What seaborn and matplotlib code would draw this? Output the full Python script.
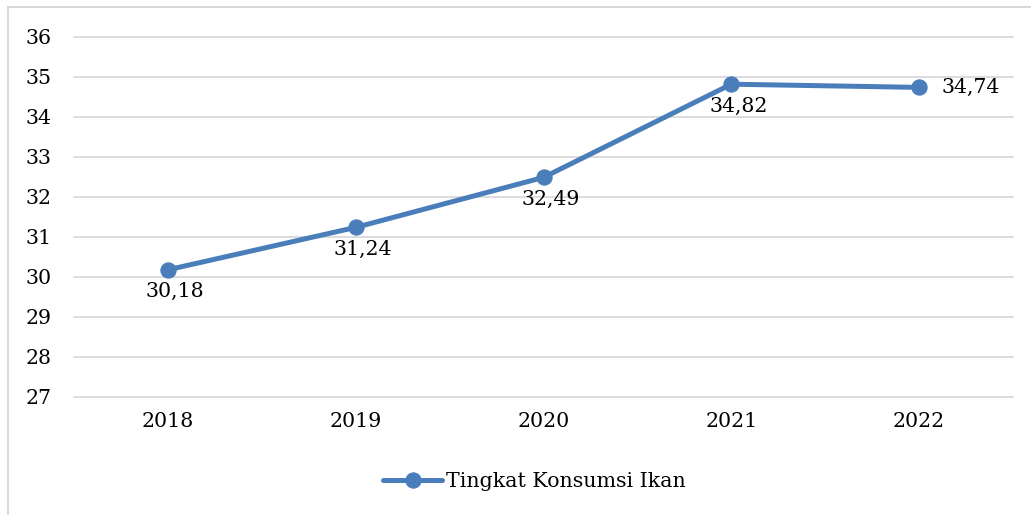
import matplotlib
matplotlib.use("Agg")
import matplotlib.pyplot as plt
import seaborn as sns
import pandas as pd
from matplotlib.patches import Rectangle

years = ["2018", "2019", "2020", "2021", "2022"]
konsumsi = [30.18, 31.24, 32.49, 34.82, 34.74]
series_name = "Tingkat Konsumsi Ikan"
yticks = [27, 28, 29, 30, 31, 32, 33, 34, 35, 36]

sns.set_theme(style="white")
plt.rcParams["font.family"] = ["DejaVu Serif"]

df = pd.DataFrame({"Tahun": years, "Nilai": konsumsi})

W, H = 1031, 515
fs = 14.8
txt_color = "#000000"
fig = plt.figure(figsize=(W / 100, H / 100), dpi=100)
ax = fig.add_axes([74 / W, 1 - 397 / H, (1013 - 74) / W, (397 - 37) / H])

blue = "#4a7ebb"
sns.lineplot(data=df, x="Tahun", y="Nilai", ax=ax, color=blue, linewidth=3.6,
             marker="o", markersize=11, markeredgecolor=blue, label=series_name,
             sort=False)

ax.set_xlim(-0.5, len(years) - 0.5)
ax.set_ylim(27, 36)
ax.set_yticks(yticks)
ax.set_yticklabels([str(t) for t in yticks])
ax.grid(axis="y", color="#d9d9d9", linewidth=1.3)
for gl in ax.get_ygridlines():
    gl.set_clip_on(False)
ax.set_axisbelow(True)
for s in ax.spines.values():
    s.set_visible(False)
ax.tick_params(axis="both", length=0, labelsize=fs, colors=txt_color)
ax.tick_params(axis="y", pad=16)
ax.tick_params(axis="x", pad=11)
ax.set_xlabel("")
ax.set_ylabel("")

# value labels
for i, v in enumerate(konsumsi):
    txt = f"{v:.2f}".replace(".", ",")
    if i == len(konsumsi) - 1:
        ax.annotate(txt, (i, v), xytext=(16, 0), textcoords="offset points",
                    ha="left", va="center", fontsize=fs, color=txt_color)
    else:
        ax.annotate(txt, (i, v), xytext=(5, -9), textcoords="offset points",
                    ha="center", va="top", fontsize=fs, color=txt_color)

leg = ax.legend(loc="center", bbox_to_anchor=(0.49, -0.235), frameon=False,
                fontsize=fs, handlelength=2.9, handletextpad=0.15)
for t in leg.get_texts():
    t.set_color(txt_color)

# chart area border
fig.patches.append(Rectangle((8 / W, -0.1), 1.2, 1 - 7 / H + 0.1,
                             transform=fig.transFigure, fill=False,
                             edgecolor="#d9d9d9", linewidth=1.5))

fig.savefig("out.png", dpi=100)
